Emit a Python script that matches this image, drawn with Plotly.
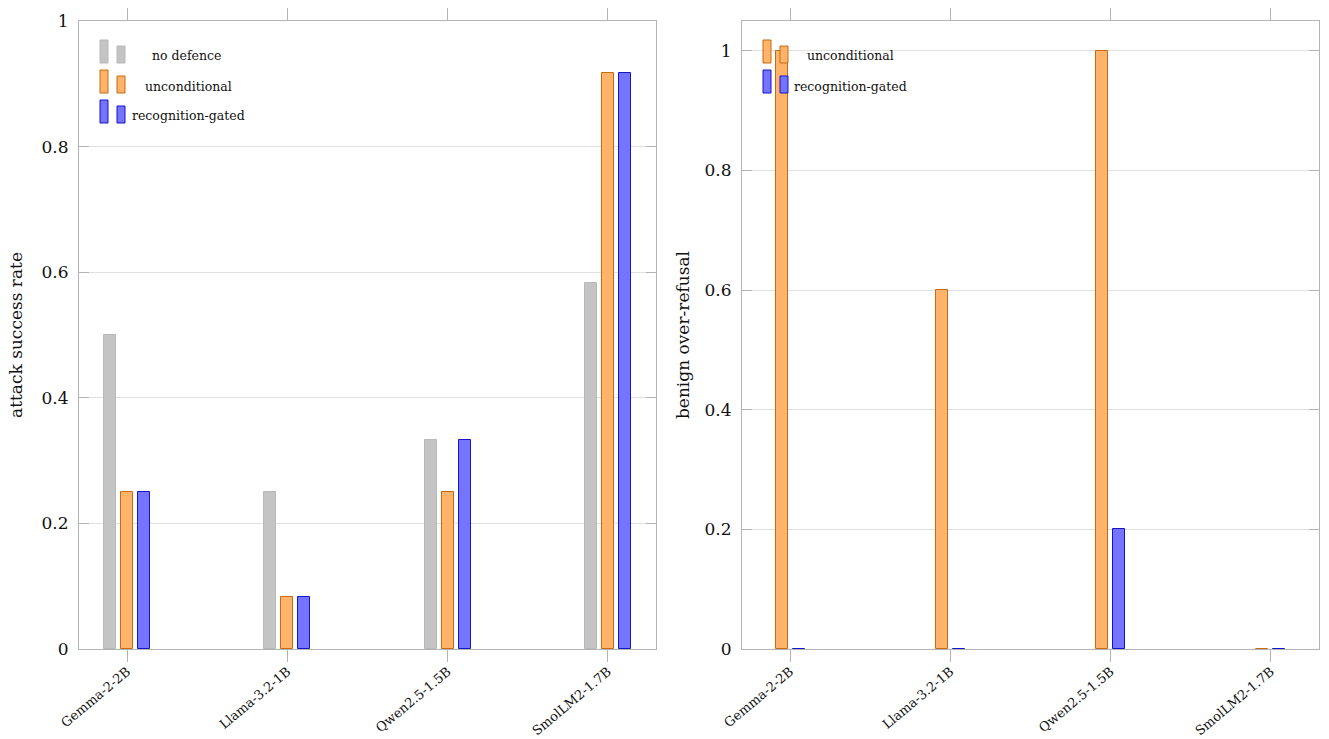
import plotly.graph_objects as go

W, H = 1329, 739

models = ["Gemma-2-2B", "Llama-3.2-1B", "Qwen2.5-1.5B", "SmolLM2-1.7B"]

# left panel: attack success rate
asr_no_defence = [0.5, 0.25, 0.333, 0.583]
asr_unconditional = [0.25, 0.0833, 0.25, 0.9167]
asr_recognition = [0.25, 0.0833, 0.333, 0.9167]

# right panel: benign over-refusal
bor_unconditional = [1.0, 0.6, 1.0, 0.0]
bor_recognition = [0.0, 0.0, 0.2, 0.0]

y_ticks_left = [0, 0.2, 0.4, 0.6, 0.8, 1]
y_ticks_right = [0, 0.2, 0.4, 0.6, 0.8, 1]

GREY_F, GREY_L = "#c4c4c4", "#b8b8b8"
ORG_F, ORG_L = "#ffb36b", "#c86a10"
BLU_F, BLU_L = "#7474ff", "#1414c8"

FONT = "DejaVu Serif"
BW = 0.075
PITCH = 0.106

fig = go.Figure()

def bar(x, y, fill, line, offset, xa, ya, name):
    fig.add_trace(go.Bar(
        x=x, y=y, name=name, width=BW, offset=offset,
        marker=dict(color=fill, line=dict(color=line, width=1)),
        xaxis=xa, yaxis=ya, showlegend=False))

bar(models, asr_no_defence, GREY_F, GREY_L, -PITCH - BW / 2, "x", "y", "no defence")
bar(models, asr_unconditional, ORG_F, ORG_L, -BW / 2, "x", "y", "unconditional")
bar(models, asr_recognition, BLU_F, BLU_L, PITCH - BW / 2, "x", "y", "recognition-gated")

bar(models, bor_unconditional, ORG_F, ORG_L, -PITCH / 2 - BW / 2, "x2", "y2", "unconditional")
bar(models, bor_recognition, BLU_F, BLU_L, PITCH / 2 - BW / 2, "x2", "y2", "recognition-gated")

AX = "#b4b4b4"
GRID = "#e0e0e0"
ytop = 1 - 21 / H
ybot = 1 - 649 / H

xcommon = dict(type="category", range=[-0.3, 3.3], showline=True, linecolor=AX, linewidth=1,
               mirror="ticks", ticks="outside", ticklen=12, tickcolor=AX, showgrid=False,
               tickangle=-40, tickfont=dict(family=FONT, size=13, color="#111"),
               automargin=False, zeroline=False, ticklabelstandoff=-3)
ycommon = dict(showline=True, linecolor=AX, linewidth=1, mirror="ticks", ticks="inside",
               ticklen=10, tickcolor=AX, showgrid=True, gridcolor=GRID, gridwidth=1,
               tickfont=dict(family=FONT, size=17, color="#111"), zeroline=False,
               automargin=False, ticklabelstandoff=6)

fig.update_layout(
    width=W, height=H, margin=dict(l=0, r=0, t=0, b=0),
    paper_bgcolor="white", plot_bgcolor="white",
    font=dict(family=FONT, color="#111"),
    bargap=0,
    xaxis=dict(domain=[79 / W, 656 / W], anchor="y", **xcommon),
    xaxis2=dict(domain=[742 / W, 1319 / W], anchor="y2", **xcommon),
    yaxis=dict(domain=[ybot, ytop], anchor="x", range=[0, 1], tickvals=y_ticks_left,
               ticktext=[("%g" % v) for v in y_ticks_left],
               title=dict(text="attack success rate", font=dict(family=FONT, size=17), standoff=14),
               **ycommon),
    yaxis2=dict(domain=[ybot, ytop], anchor="x2", range=[0, 1.05], tickvals=y_ticks_right,
                ticktext=[("%g" % v) for v in y_ticks_right],
                title=dict(text="benign over-refusal", font=dict(family=FONT, size=17), standoff=10),
                **ycommon),
)

# hand-drawn pgfplots-style legends (two bar glyphs + centred label)
def px(x):
    return x / W

def py(y):
    return 1 - y / H

def legend_entry(x0, ytop_px, fill, line, label, text_cx):
    fig.add_shape(type="rect", xref="paper", yref="paper",
                  x0=px(x0), x1=px(x0 + 8), y0=py(ytop_px + 23), y1=py(ytop_px),
                  fillcolor=fill, line=dict(color=line, width=1))
    fig.add_shape(type="rect", xref="paper", yref="paper",
                  x0=px(x0 + 17), x1=px(x0 + 25), y0=py(ytop_px + 23), y1=py(ytop_px + 6),
                  fillcolor=fill, line=dict(color=line, width=1))
    fig.add_annotation(text=label, xref="paper", yref="paper", x=px(text_cx), y=py(ytop_px + 16),
                       xanchor="center", yanchor="middle", showarrow=False,
                       font=dict(family=FONT, size=12.5, color="#111"))

legend_entry(100, 40, GREY_F, GREY_L, "no defence", 187)
legend_entry(100, 70, ORG_F, ORG_L, "unconditional", 188)
legend_entry(100, 100, BLU_F, BLU_L, "recognition-gated", 188)

legend_entry(763, 40, ORG_F, ORG_L, "unconditional", 850)
legend_entry(763, 70, BLU_F, BLU_L, "recognition-gated", 850)

fig.write_html("out.html")
